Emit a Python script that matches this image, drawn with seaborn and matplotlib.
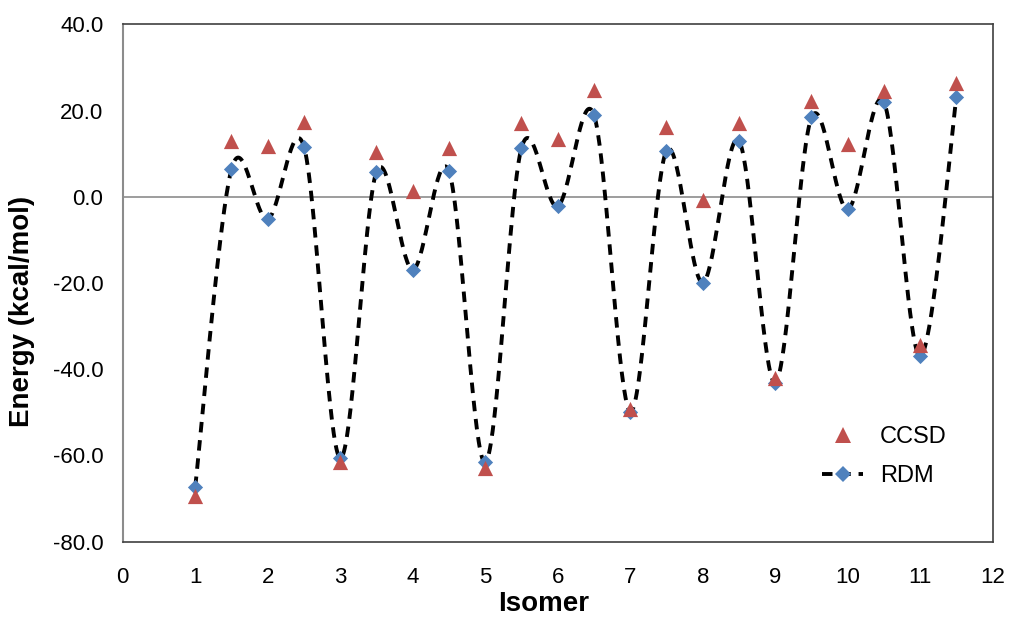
import numpy as np
import pandas as pd
import matplotlib
matplotlib.use("Agg")
import matplotlib.pyplot as plt
from matplotlib.lines import Line2D
import seaborn as sns

# ---- data ----
isomer = [1, 1.5, 2, 2.5, 3, 3.5, 4, 4.5, 5, 5.5, 6, 6.5, 7, 7.5, 8, 8.5, 9, 9.5, 10, 10.5, 11, 11.5]
ccsd = [-69.5, 13.0, 11.7, 17.4, -61.5, 10.5, 1.3, 11.2, -62.8, 17.0, 13.4, 24.8,
        -49.2, 16.1, -0.7, 17.0, -42.1, 22.1, 12.2, 24.6, -34.4, 26.3]
rdm = [-67.3, 6.4, -5.2, 11.6, -60.6, 5.8, -16.9, 5.9, -61.6, 11.3, -2.2, 19.0,
       -49.8, 10.7, -19.9, 13.0, -43.1, 18.4, -2.9, 21.9, -37.0, 23.2]
x_ticks = list(range(0, 13))
y_ticks = [-80, -60, -40, -20, 0, 20, 40]

df = pd.DataFrame({"Isomer": isomer, "CCSD": ccsd, "RDM": rdm})

# ---- Excel-style smoothed line (cubic Bezier, Catmull-Rom control points) ----
def smooth_curve(xs, ys, n=40):
    xs = np.asarray(xs, float)
    ys = np.asarray(ys, float)
    P = np.column_stack([xs, ys])
    Pext = np.vstack([P[0], P, P[-1]])
    out = []
    t = np.linspace(0, 1, n)[:, None]
    for i in range(len(P) - 1):
        p0, p1, p2, p3 = Pext[i], Pext[i + 1], Pext[i + 2], Pext[i + 3]
        c1 = p1 + (p2 - p0) / 6.0
        c2 = p2 - (p3 - p1) / 6.0
        seg = ((1 - t) ** 3) * p1 + 3 * ((1 - t) ** 2) * t * c1 + 3 * (1 - t) * t ** 2 * c2 + t ** 3 * p2
        out.append(seg if i == 0 else seg[1:])
    arr = np.vstack(out)
    return arr[:, 0], arr[:, 1]

cx, cy = smooth_curve(df["Isomer"], df["RDM"])
curve = pd.DataFrame({"x": cx, "y": cy})

sns.set_theme(style="white")
plt.rcParams["font.family"] = ["Liberation Sans", "DejaVu Sans"]
plt.rcParams["text.color"] = "black"
plt.rcParams["axes.labelcolor"] = "black"

fig = plt.figure(figsize=(10.1, 6.17), dpi=100)
ax = fig.add_axes([0.1215, 0.122, 0.8614, 0.8386])

red = "#C0504D"
blue = "#4F81BD"
dash = (0, (2.7, 2.0))

ax.axhline(0, color="#8C8C8C", lw=1.2, zorder=1)

sns.lineplot(data=curve, x="x", y="y", sort=False, estimator=None, ax=ax,
             color="black", lw=2.8, linestyle=dash, zorder=2, legend=False)
sns.scatterplot(data=df, x="Isomer", y="RDM", marker="D", s=60, color=blue,
                linewidth=0, ax=ax, zorder=3, legend=False)
sns.scatterplot(data=df, x="Isomer", y="CCSD", marker="^", s=120, color=red,
                linewidth=0, ax=ax, zorder=4, legend=False)

ax.set_xlim(0, 12)
ax.set_ylim(-80, 40)
ax.set_xticks(x_ticks)
ax.set_xticklabels([str(v) for v in x_ticks])
ax.set_yticks(y_ticks)
ax.set_yticklabels([f"{v:.1f}" for v in y_ticks])
ax.tick_params(axis="both", length=0, labelsize=16, colors="black")
ax.tick_params(axis="x", pad=18)
ax.tick_params(axis="y", pad=14)

ax.set_xlabel("Isomer", fontsize=20, fontweight="bold", color="black")
ax.set_ylabel("Energy (kcal/mol)", fontsize=20, fontweight="bold", color="black")
ax.xaxis.set_label_coords(0.484, -0.095)
ax.yaxis.set_label_coords(-0.101, 0.445)

for side in ["top", "right", "bottom"]:
    ax.spines[side].set_color("#404040")
    ax.spines[side].set_linewidth(1.2)
ax.spines["left"].set_color("#8C8C8C")
ax.spines["left"].set_linewidth(1.5)

handles = [
    Line2D([], [], marker="^", color=red, linestyle="none", markersize=11, markeredgewidth=0),
    Line2D([], [], marker="D", color="black", markerfacecolor=blue, markeredgewidth=0,
           markersize=7.7, lw=2.8, linestyle=dash),
]
leg = ax.legend(handles, ["CCSD", "RDM"], frameon=False, fontsize=17, loc="upper left",
                bbox_to_anchor=(822 / 1010, 1 - 426 / 617), bbox_transform=fig.transFigure,
                borderpad=0, borderaxespad=0, handlelength=1.75, handletextpad=0.7,
                labelspacing=0.72)
for t in leg.get_texts():
    t.set_color("black")

fig.savefig("out.png", dpi=100)
